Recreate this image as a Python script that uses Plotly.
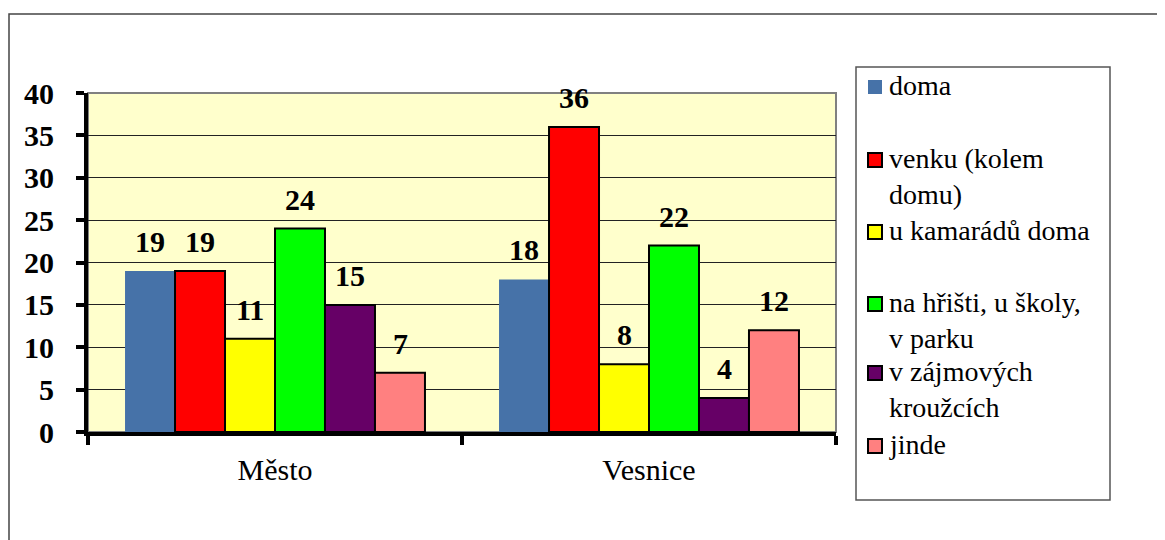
import plotly.graph_objects as go

categories = ["Město", "Vesnice"]
series_names = ["doma", "venku (kolem domu)", "u kamarádů doma",
                "na hřišti, u školy, v parku", "v zájmových kroužcích", "jinde"]
legend_labels = ["doma", "venku (kolem<br>domu)", "u kamarádů doma",
                 "na hřišti, u školy,<br>v parku", "v zájmových<br>kroužcích", "jinde"]
doma = [19, 18]
venku = [19, 36]
u_kamaradu = [11, 8]
na_hristi = [24, 22]
v_krouzcich = [15, 4]
jinde = [7, 12]
values = [doma, venku, u_kamaradu, na_hristi, v_krouzcich, jinde]
y_ticks = [0, 5, 10, 15, 20, 25, 30, 35, 40]

colors = ["#4672A8", "#FF0000", "#FFFF00", "#00FF00", "#660066", "#FF8080"]
line_w = [0, 2, 2, 2, 2, 2]

FONT = "Times New Roman, Liberation Serif, serif"
OFF = 8  # page body margin of the html
W, H = 1165, 540
L, R, T, B = 88, 836, 93, 432


def px(x):
    return (x - L) / (R - L)


def py(y):
    return (B - y) / (B - T)


fig = go.Figure()
for name, vals, c, lw in zip(series_names, values, colors, line_w):
    fig.add_trace(go.Bar(
        x=categories, y=vals, name=name,
        marker=dict(color=c, line=dict(color="black", width=lw)),
        showlegend=False,
    ))

bar_px = 50
n = len(values)
annotations = []
for i, vals in enumerate(values):
    for cat, v in zip(categories, vals):
        annotations.append(dict(
            x=cat, y=v, xref="x", yref="y", text=f"<b>{v}</b>", showarrow=False,
            xshift=(i - (n - 1) / 2) * bar_px, yanchor="bottom", yshift=11,
            font=dict(family=FONT, size=30, color="black"),
        ))

shapes = []
shapes.append(dict(type="rect", xref="paper", yref="paper", x0=0, x1=1, y0=0, y1=1,
                   line=dict(color="#808080", width=2), layer="below"))
shapes.append(dict(type="rect", xref="paper", yref="paper",
                   x0=px(9), x1=px(1185), y0=py(14), y1=py(560),
                   line=dict(color="#444444", width=1.5)))
shapes.append(dict(type="rect", xref="paper", yref="paper",
                   x0=px(856), x1=px(1110), y0=py(67), y1=py(500),
                   line=dict(color="#555555", width=1.5), fillcolor="white"))
sw_centers = [87, 160, 232, 304, 373, 446]
for c, lw, yc, lab in zip(colors, line_w, sw_centers, legend_labels):
    shapes.append(dict(type="rect", xref="paper", yref="paper",
                       x0=px(868), x1=px(882), y0=py(yc - 7), y1=py(yc + 7),
                       fillcolor=c, line=dict(color="black", width=lw)))
    annotations.append(dict(
        x=px(887), y=py(yc - 19), xref="paper", yref="paper", text=lab,
        showarrow=False, xanchor="left", yanchor="top", align="left",
        font=dict(family=FONT, size=28, color="black"),
    ))

fig.update_layout(
    width=W, height=H,
    margin=dict(l=L - OFF, r=W - R + OFF, t=T - OFF, b=H - B + OFF, pad=0),
    paper_bgcolor="white", plot_bgcolor="#FFFFCC",
    barmode="group", bargap=0.198, bargroupgap=0,
    font=dict(family=FONT, color="black"),
    shapes=shapes, annotations=annotations,
)
fig.update_xaxes(
    showline=True, linecolor="black", linewidth=4,
    ticks="outside", ticklen=9, tickwidth=4, tickcolor="black",
    tickson="boundaries", showgrid=False,
    tickfont=dict(family=FONT, size=30, color="black"),
    ticklabelstandoff=8,
)
fig.update_yaxes(
    range=[0, 40], tickvals=y_ticks, ticktext=[f"<b>{t}</b>" for t in y_ticks],
    showline=True, linecolor="black", linewidth=4,
    ticks="outside", ticklen=8, tickwidth=4, tickcolor="black",
    showgrid=True, gridcolor="#222222", gridwidth=1,
    zeroline=False,
    tickfont=dict(family=FONT, size=30, color="black"),
    ticklabelstandoff=16,
)

fig.write_html("out.html")
